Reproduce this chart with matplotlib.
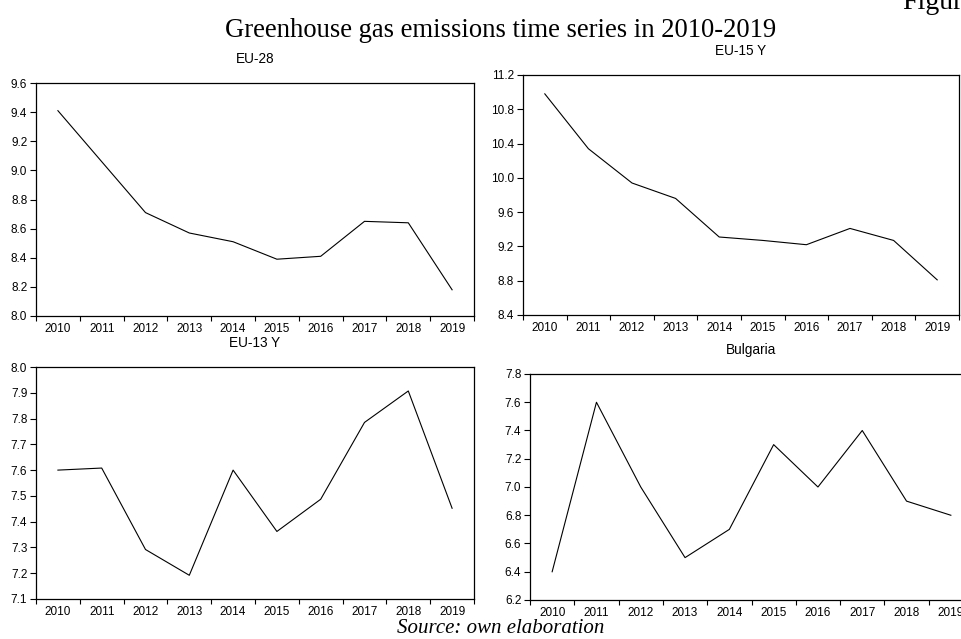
import numpy as np
import matplotlib
matplotlib.use("Agg")
import matplotlib.pyplot as plt

years = ["2010", "2011", "2012", "2013", "2014", "2015", "2016", "2017", "2018", "2019"]

eu28 = [9.41, 9.06, 8.71, 8.57, 8.51, 8.39, 8.41, 8.65, 8.64, 8.18]
eu15 = [10.98, 10.34, 9.94, 9.76, 9.31, 9.27, 9.22, 9.41, 9.27, 8.81]
eu13 = [7.60, 7.608, 7.292, 7.192, 7.60, 7.362, 7.487, 7.785, 7.907, 7.452]
bulgaria = [6.4, 7.6, 7.0, 6.5, 6.7, 7.3, 7.0, 7.4, 6.9, 6.8]

W, H = 961, 639
plt.rcParams["font.family"] = ["Liberation Sans", "DejaVu Sans"]


def px_axes(fig, left, top, right, bottom):
    # pixel box -> figure fraction
    return fig.add_axes([left / W, 1 - bottom / H, (right - left) / W, (bottom - top) / H])


def panel(ax, values, title, ylim, ystep):
    x = np.arange(len(years))
    ax.plot(x, values, color="black", linewidth=0.8)
    ax.set_xlim(-0.5, len(years) - 0.5)
    ax.set_ylim(*ylim)
    ax.set_yticks(np.arange(ylim[0], ylim[1] + ystep / 2, ystep))
    ax.yaxis.set_major_formatter(matplotlib.ticker.FormatStrFormatter("%.1f"))

    # tick marks between the years, labels in the middle
    ax.set_xticks(np.arange(-0.5, len(years), 1.0))
    ax.set_xticklabels([])
    ax.set_xticks(x, minor=True)
    ax.set_xticklabels(years, minor=True)
    ax.tick_params(axis="x", which="major", direction="out", length=3.5, width=0.8)
    ax.tick_params(axis="x", which="minor", length=0, pad=5, labelsize=8.5)
    ax.tick_params(axis="y", direction="out", length=4.3, width=0.8, pad=2, labelsize=8.5)
    for s in ax.spines.values():
        s.set_linewidth(0.9)
    ax.annotate(title, xy=(0.5, 1), xycoords="axes fraction", xytext=(0, 17.3),
                textcoords="offset points", ha="center", va="center", fontsize=9.8)


fig = plt.figure(figsize=(W / 100, H / 100), dpi=100)

ax1 = px_axes(fig, 36, 83, 474, 316)
panel(ax1, eu28, "EU-28", (8.0, 9.6), 0.2)

ax2 = px_axes(fig, 523, 75, 959, 315)
panel(ax2, eu15, "EU-15 Y", (8.4, 11.2), 0.4)

ax3 = px_axes(fig, 36, 367, 474, 599)
panel(ax3, eu13, "EU-13 Y", (7.1, 8.0), 0.1)

ax4 = px_axes(fig, 530, 374, 973, 600)
panel(ax4, bulgaria, "Bulgaria", (6.2, 7.8), 0.2)

fig.text(501 / W, 1 - 37 / H, "Greenhouse gas emissions time series in 2010-2019",
         ha="center", va="baseline", fontsize=19.2, family="Liberation Serif")
fig.text(902 / W, 1 - 9 / H, "Figure", ha="left", va="baseline",
         fontsize=20, family="Liberation Serif")
fig.text(501 / W, 1 - 633 / H, "Source: own elaboration", ha="center", va="baseline",
         fontsize=15, family="Liberation Serif", style="italic")

fig.savefig("out.png", dpi=100)
